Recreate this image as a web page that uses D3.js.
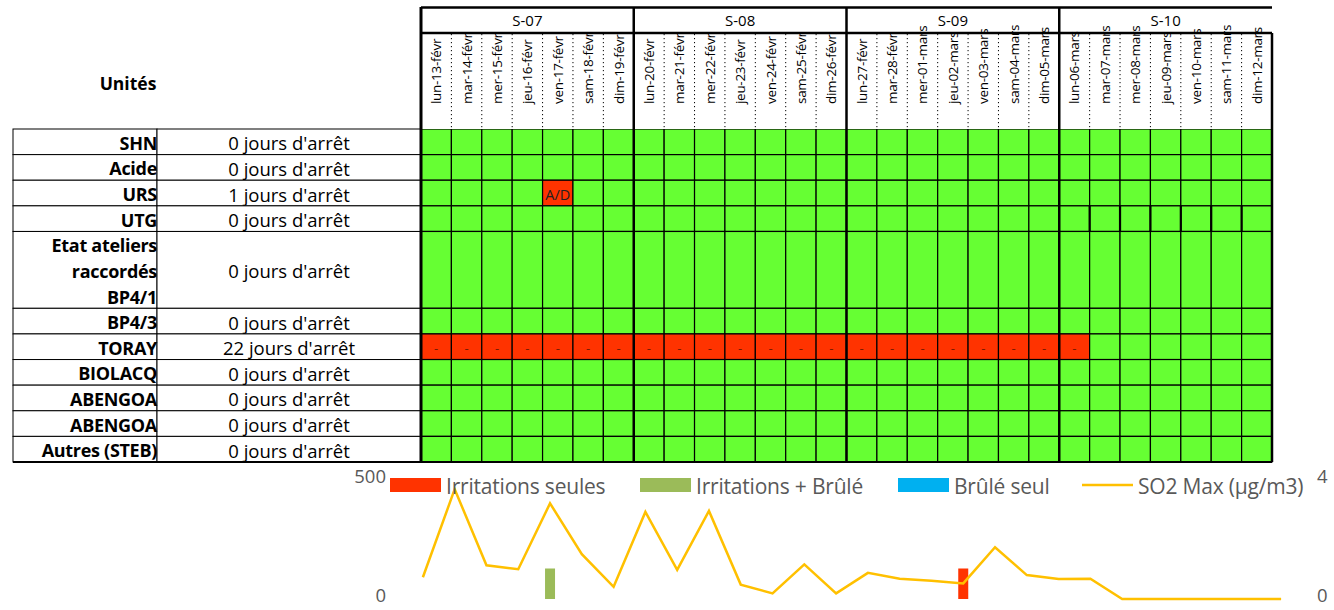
<!DOCTYPE html>
<html><head><meta charset="utf-8">
<script src="https://cdn.jsdelivr.net/npm/d3@7"></script>
<style>body{margin:0;background:#fff;} svg{display:block;font-family:"Open Sans",sans-serif;}</style>
</head><body><svg id="c" width="1334" height="610"></svg>
<script>
// ---------- DATA ----------
const weeks = ["S-07","S-08","S-09","S-10"];
const days = ["lun-13-févr","mar-14-févr","mer-15-févr","jeu-16-févr","ven-17-févr","sam-18-févr","dim-19-févr",
  "lun-20-févr","mar-21-févr","mer-22-févr","jeu-23-févr","ven-24-févr","sam-25-févr","dim-26-févr",
  "lun-27-févr","mar-28-févr","mer-01-mars","jeu-02-mars","ven-03-mars","sam-04-mars","dim-05-mars",
  "lun-06-mars","mar-07-mars","mer-08-mars","jeu-09-mars","ven-10-mars","sam-11-mars","dim-12-mars"];
const units = ["SHN","Acide","URS","UTG","Etat ateliers\nraccordés\nBP4/1","BP4/3","TORAY","BIOLACQ","ABENGOA","ABENGOA","Autres (STEB)"];
const stopDays = [0,0,1,0,0,0,22,0,0,0,0];
const stopCells = [[],[],[4],[],[],[],[0,1,2,3,4,5,6,7,8,9,10,11,12,13,14,15,16,17,18,19,20,21],[],[],[],[]];
const stopMarks = ["","","A/D","","","","-","","","",""];
const so2 = [89,450,138,122,392,184,50,357,119,361,59,23,142,23,107,83,75,64,212,98,82,83,0,0,0,0,0,0];
const irritSeules = [0,0,0,0,0,0,0,0,0,0,0,0,0,0,0,0,0,1,0,0,0,0,0,0,0,0,0,0];
const irritBrule  = [0,0,0,0,1,0,0,0,0,0,0,0,0,0,0,0,0,0,0,0,0,0,0,0,0,0,0,0];
const bruleSeul   = [0,0,0,0,0,0,0,0,0,0,0,0,0,0,0,0,0,0,0,0,0,0,0,0,0,0,0,0];
const legendLabels = ["Irritations seules","Irritations + Brûlé","Brûlé seul","SO2 Max (µg/m3)"];
const leftTicks = [0,500];
const rightTicks = [0,4];

// ---------- STYLE ----------
const GREEN = "#66FF33", RED = "#FF3300";
const FONT = "'Open Sans',sans-serif";
const svg = d3.select("#c");

// ---------- GRID ----------
const gx = d3.scaleBand().domain(days).range([421,1272]);
const lines = units.map(u => u.split("\n"));
const starts = []; let acc = 0;
lines.forEach(l => { starts.push(acc); acc += l.length; });
const gy = d3.scaleLinear().domain([0, acc]).range([129, 462]);
const bw = gx.bandwidth();

// left table
const lt = svg.append("g");
units.forEach((u,i) => {
  const y0 = gy(starts[i]), y1 = gy(starts[i] + lines[i].length);
  lt.append("rect").attr("x",13).attr("y",y0).attr("width",144).attr("height",y1-y0)
    .attr("fill","#fff").attr("stroke","#000").attr("stroke-width",1);
  lt.append("rect").attr("x",157).attr("y",y0).attr("width",264).attr("height",y1-y0)
    .attr("fill","#fff").attr("stroke","#000").attr("stroke-width",1);
  lines[i].forEach((ln,k) => {
    lt.append("text").attr("x",157).attr("y",(gy(starts[i]+k)+gy(starts[i]+k+1))/2+1)
      .attr("text-anchor","end").attr("dominant-baseline","central")
      .attr("font-size",18).attr("font-weight","bold").attr("letter-spacing",-0.3).attr("fill","#000").text(ln);
  });
  lt.append("text").attr("x",289).attr("y",(y0+y1)/2+1).attr("text-anchor","middle")
    .attr("dominant-baseline","central").attr("font-size",18.5).attr("fill","#000")
    .text(stopDays[i] + " jours d'arrêt");
});
svg.append("text").attr("x",128).attr("y",83).attr("text-anchor","middle").attr("dominant-baseline","central")
  .attr("font-size",17.5).attr("font-weight","bold").text("Unités");

// cells
const cg = svg.append("g");
units.forEach((u,i) => {
  const y0 = gy(starts[i]), y1 = gy(starts[i] + lines[i].length);
  days.forEach((d,j) => {
    const stop = stopCells[i].includes(j);
    cg.append("rect").attr("x",gx(d)).attr("y",y0).attr("width",bw).attr("height",y1-y0)
      .attr("fill", stop ? RED : GREEN).attr("stroke","#000").attr("stroke-width",1.2);
    if (stop) {
      const mk = stopMarks[i];
      cg.append("text").attr("x",gx(d)+bw/2).attr("y",(y0+y1)/2+1).attr("text-anchor","middle")
        .attr("dominant-baseline","central").attr("font-size", mk === "-" ? 13 : 14.5)
        .attr("fill", mk === "-" ? "#7a1a00" : "#222").text(mk);
    }
  });
});
// thicker separators in UTG row (S-10)
const utg = units.indexOf("UTG");
days.slice(22).forEach(d => {
  cg.append("line").attr("x1",gx(d)).attr("x2",gx(d)).attr("y1",gy(starts[utg])).attr("y2",gy(starts[utg]+1))
    .attr("stroke","#000").attr("stroke-width",2.2);
});

// header
const hg = svg.append("g");
hg.append("rect").attr("x",421).attr("y",7).attr("width",851).attr("height",122).attr("fill","#fff");
hg.append("line").attr("x1",421).attr("x2",1272).attr("y1",7.5).attr("y2",7.5).attr("stroke","#000").attr("stroke-width",2.5);
hg.append("line").attr("x1",421).attr("x2",1272).attr("y1",33).attr("y2",33).attr("stroke","#000").attr("stroke-width",2.5);
days.forEach((d,j) => {
  if (j % 7 !== 0) {
    hg.append("line").attr("x1",gx(d)).attr("x2",gx(d)).attr("y1",34).attr("y2",129)
      .attr("stroke","#000").attr("stroke-width",1).attr("stroke-dasharray","1.2,2.8");
  }
  hg.append("text").attr("transform",`translate(${gx(d)+bw/2},104) rotate(-90)`)
    .attr("text-anchor","start").attr("dominant-baseline","central")
    .attr("font-size",13.5).attr("letter-spacing",-0.3).attr("fill","#000").text(d);
});
weeks.forEach((w,k) => {
  const xs = gx(days[k*7]), xe = k < weeks.length-1 ? gx(days[k*7+7]) : 1272;
  hg.append("text").attr("x",(xs+xe)/2).attr("y",20).attr("text-anchor","middle")
    .attr("dominant-baseline","central").attr("font-size",15).text(w);
  hg.append("line").attr("x1",xs).attr("x2",xs).attr("y1",7).attr("y2",462)
    .attr("stroke","#000").attr("stroke-width", k === 0 ? 3 : 2.5);
});
hg.append("line").attr("x1",1272).attr("x2",1272).attr("y1",33).attr("y2",462).attr("stroke","#000").attr("stroke-width",2.5);
hg.append("line").attr("x1",13).attr("x2",1272).attr("y1",462).attr("y2",462).attr("stroke","#000").attr("stroke-width",2);

// ---------- BOTTOM CHART ----------
const bx = d3.scaleBand().domain(days).range([407,1297]);
const yL = d3.scaleLinear().domain([0,500]).range([599,477]);
const yR = d3.scaleLinear().domain([0,4]).range([599,477]);
const bc = svg.append("g");

const axL = bc.append("g").attr("transform","translate(386,0)")
  .call(d3.axisLeft(yL).tickValues(leftTicks).tickFormat(d3.format("d")).tickSize(0).tickPadding(0));
const axR = bc.append("g").attr("transform","translate(1317,0)")
  .call(d3.axisRight(yR).tickValues(rightTicks).tickFormat(d3.format("d")).tickSize(0).tickPadding(0));
[axL, axR].forEach(a => {
  a.select(".domain").remove();
  a.selectAll("text").attr("font-family",FONT).attr("font-size",18.5).attr("fill","#595959")
    .attr("dy", d => d === 0 ? "0.12em" : "0.3em");
});

const barW = 10;
const series = [[irritSeules, RED],[irritBrule,"#9BBB59"],[bruleSeul,"#00B0F0"]];
series.forEach(([vals,col]) => {
  bc.selectAll(null).data(days.map((d,i)=>({d,v:vals[i]})).filter(o=>o.v>0)).enter().append("rect")
    .attr("x",o=>bx(o.d)+bx.bandwidth()/2-barW/2).attr("width",barW)
    .attr("y",o=>yR(o.v)).attr("height",o=>yR(0)-yR(o.v)).attr("fill",col);
});

const line = d3.line().x((v,i)=>bx(days[i])+bx.bandwidth()/2).y(v=>yL(v));
bc.append("path").datum(so2).attr("d",line).attr("fill","none").attr("stroke","#FFC000")
  .attr("stroke-width",2.5).attr("stroke-linejoin","miter");

// legend
const lg = svg.append("g");
const legX = [390, 640, 898, 1082];
const legCol = [RED,"#9BBB59","#00B0F0","#FFC000"];
legendLabels.forEach((lab,i) => {
  if (i < 3) lg.append("rect").attr("x",legX[i]).attr("y",478).attr("width",51).attr("height",14).attr("fill",legCol[i]);
  else lg.append("line").attr("x1",legX[i]).attr("x2",legX[i]+51).attr("y1",485).attr("y2",485).attr("stroke",legCol[i]).attr("stroke-width",2.5);
  lg.append("text").attr("x",legX[i]+56).attr("y",486).attr("dominant-baseline","central")
    .attr("font-size",21).attr("letter-spacing",-0.2).attr("fill","#595959").text(lab);
});
</script></body></html>
